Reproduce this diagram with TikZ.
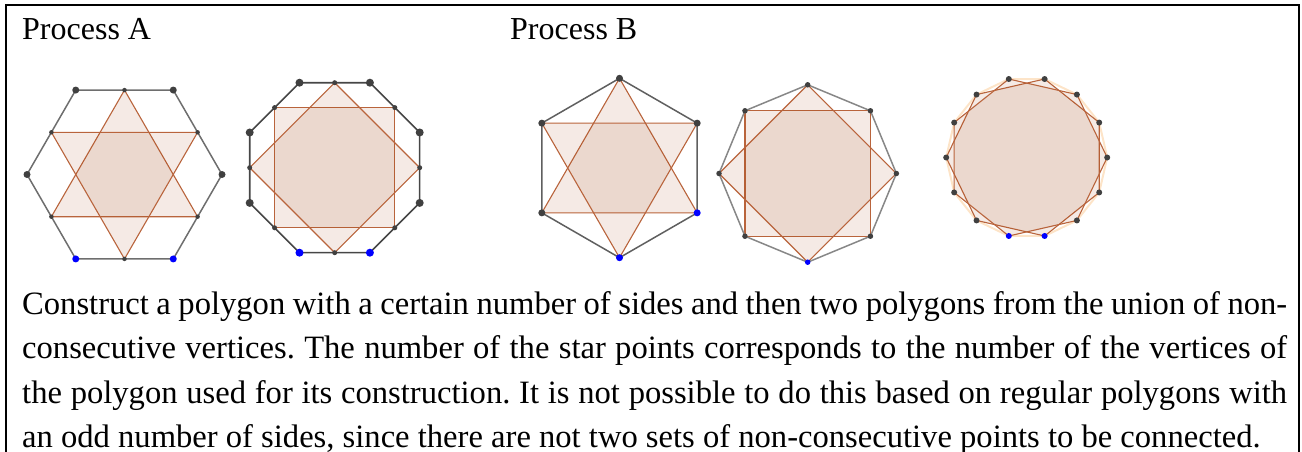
\documentclass[tikz,border=0pt]{standalone}
\usepackage{fontspec}
\setmainfont{Liberation Serif}
\definecolor{edgebrown}{RGB}{185,100,60}
\definecolor{fillbrown}{RGB}{153,51,0}
\definecolor{dotgray}{RGB}{64,64,64}
\definecolor{dotblue}{RGB}{0,0,255}
\definecolor{haloorange}{RGB}{253,228,200}
\begin{document}
\frenchspacing
\begin{tikzpicture}[x=1pt,y=-1pt,
  star/.style={draw=edgebrown, line width=1.1pt, fill=fillbrown, fill opacity=0.1, line join=round},
  outer/.style={line width=1.5pt, line join=round},
  bigdot/.style={circle, fill=dotgray, inner sep=0pt, minimum size=7pt},
  smalldot/.style={circle, fill=dotgray, inner sep=0pt, minimum size=4.5pt},
  bluedot/.style={circle, fill=dotblue, inner sep=0pt, minimum size=7pt},
  label/.style={anchor=base west, inner sep=0pt, font=\fontsize{32}{38}\selectfont},
  body/.style={anchor=base west, inner sep=0pt, font=\fontsize{32.6}{38}\selectfont}]
\useasboundingbox (0,0) rectangle (1302,452);
\clip (0,0) rectangle (1302,452);
% frame
\draw[line width=2pt] (6,480) -- (6,5) -- (1299,5) -- (1299,480);
% titles
\node[label] (ta) at (22,40) {Process A};
\node[label] (tb) at (510,40) {Process B};

% ---------- Hexagon A ----------
\foreach \k in {0,...,5} {
  \path ({124.5+97.5*cos(60*\k)},{174.5-97.5*sin(60*\k)}) coordinate (ha\k);
  \path ({124.5+84.4*cos(60*\k+30)},{174.5-84.4*sin(60*\k+30)}) coordinate (ham\k);
}
\draw[star] (ham1) -- (ham3) -- (ham5) -- cycle;
\draw[star] (ham0) -- (ham2) -- (ham4) -- cycle;
\draw[outer,draw={rgb,255:red,110;green,110;blue,110}] (ha0) -- (ha1) -- (ha2) -- (ha3) -- (ha4) -- (ha5) -- cycle;
\foreach \k in {0,1,2,3} \node[bigdot] (hd\k) at (ha\k) {};
\node[bluedot] (hb4) at (ha4) {};
\node[bluedot] (hb5) at (ha5) {};
\foreach \k in {0,...,5} \node[smalldot] (hs\k) at (ham\k) {};

% ---------- Octagon A ----------
\foreach \k in {0,...,7} {
  \path ({334.7+92*cos(45*\k+22.5)},{167.7-92*sin(45*\k+22.5)}) coordinate (oa\k);
  \path ({334.7+85*cos(45*\k)},{167.7-85*sin(45*\k)}) coordinate (oam\k);
}
\draw[star] (oam1) -- (oam3) -- (oam5) -- (oam7) -- cycle;
\draw[star] (oam0) -- (oam2) -- (oam4) -- (oam6) -- cycle;
\draw[outer,line width=1.6pt,draw={rgb,255:red,70;green,70;blue,70}] (oa0) -- (oa1) -- (oa2) -- (oa3) -- (oa4) -- (oa5) -- (oa6) -- (oa7) -- cycle;
\foreach \k in {0,1,2,3,4,7} \node[bigdot,minimum size=8pt] (od\k) at (oa\k) {};
\node[bluedot,minimum size=8pt] (ob5) at (oa5) {};
\node[bluedot,minimum size=8pt] (ob6) at (oa6) {};
\foreach \k in {0,...,7} \node[smalldot,minimum size=5pt] (os\k) at (oam\k) {};

% ---------- Hexagon B ----------
\foreach \k in {0,...,5} {
  \path ({619.5+89.7*cos(60*\k+90)},{168-89.7*sin(60*\k+90)}) coordinate (hbv\k);
}
\draw[star] (hbv0) -- (hbv2) -- (hbv4) -- cycle;
\draw[star] (hbv1) -- (hbv3) -- (hbv5) -- cycle;
\draw[outer,draw={rgb,255:red,95;green,95;blue,95}] (hbv0) -- (hbv1) -- (hbv2) -- (hbv3) -- (hbv4) -- (hbv5) -- cycle;
\foreach \k in {0,1,2,5} \node[bigdot] (hbd\k) at (hbv\k) {};
\node[bluedot] (hbb3) at (hbv3) {};
\node[bluedot] (hbb4) at (hbv4) {};

% ---------- Octagon B ----------
\foreach \k in {0,...,7} {
  \path ({807.7+88.7*cos(45*\k)},{173.5-88.7*sin(45*\k)}) coordinate (obv\k);
}
\draw[star] (obv1) -- (obv3) -- (obv5) -- (obv7) -- cycle;
\draw[star] (obv0) -- (obv2) -- (obv4) -- (obv6) -- cycle;
\draw[outer,draw={rgb,255:red,135;green,135;blue,135}] (obv0) -- (obv1) -- (obv2) -- (obv3) -- (obv4) -- (obv5) -- (obv6) -- (obv7) -- cycle;
\foreach \k in {0,1,2,3,4,5,7} \node[bigdot,minimum size=5.5pt] (obd\k) at (obv\k) {};
\node[bluedot,minimum size=5.5pt] (obb6) at (obv6) {};

% ---------- 14-gon B ----------
\foreach \k in {0,...,13} {
  \path ({1026.7+80.5*cos(180+\k*360/14)},{157.5-80.5*sin(180+\k*360/14)}) coordinate (tv\k);
}
\draw[line width=2pt, draw=haloorange, line join=round] (tv0) \foreach \k in {1,...,13} { -- (tv\k) } -- cycle;
\draw[star] (tv0) -- (tv2) -- (tv4) -- (tv6) -- (tv8) -- (tv10) -- (tv12) -- cycle;
\draw[star] (tv1) -- (tv3) -- (tv5) -- (tv7) -- (tv9) -- (tv11) -- (tv13) -- cycle;
\foreach \k in {0,1,2,5,6,7,8,9,10,11,12,13} \node[bigdot,minimum size=6pt] (td\k) at (tv\k) {};
\node[bluedot,minimum size=6pt] (tb3) at (tv3) {};
\node[bluedot,minimum size=6pt] (tb4) at (tv4) {};

% ---------- body text ----------
\node[body] (l1) at (22,314) {\makebox[1265pt][s]{Construct a polygon with a certain number of sides and then two polygons from the union of non-}};
\node[body] (l2) at (22,358.5) {\makebox[1265pt][s]{consecutive vertices. The number of the star points corresponds to the number of the vertices of}};
\node[body] (l3) at (22,403) {\makebox[1265pt][s]{the polygon used for its construction. It is not possible to do this based on regular polygons with}};
\node[body] (l4) at (22,447) {an odd number of sides, since there are not two sets of non-consecutive points to be connected.};
\end{tikzpicture}
\end{document}
